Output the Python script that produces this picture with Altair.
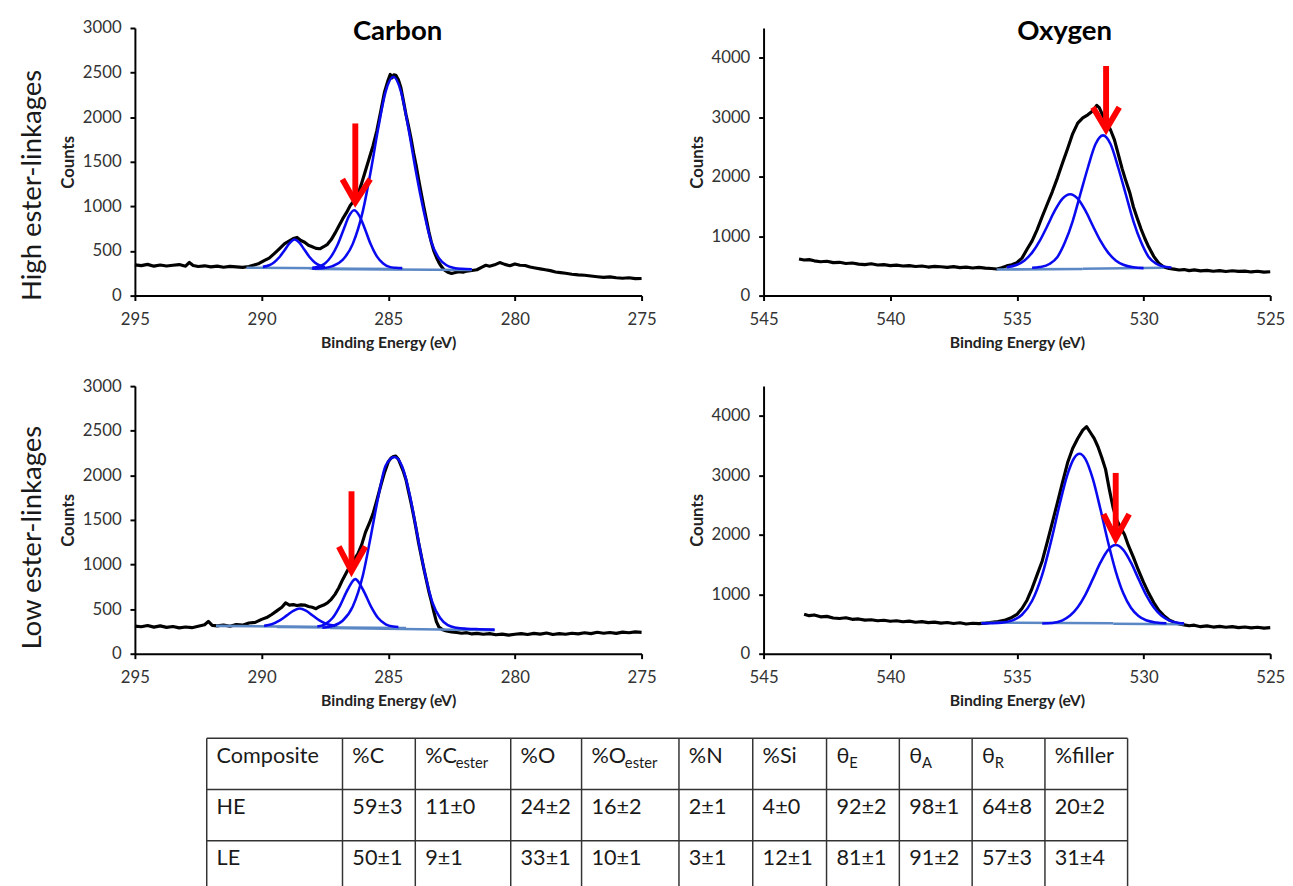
import altair as alt
import pandas as pd

FONT = "Lato"

# ---------------- data ----------------
# High ester-linkages, carbon 1s: measured spectrum (binding energy eV, counts)
HE_C_SPECTRUM = [
    (295.0, 345), (294.75, 336), (294.5, 350), (294.25, 330), (294.0, 343), (293.75, 332),
    (293.5, 340), (293.25, 348), (293.0, 330), (292.85, 372), (292.7, 338), (292.5, 326),
    (292.25, 334), (292.0, 322), (291.75, 330), (291.5, 318), (291.25, 328), (291.0, 322),
    (290.75, 316), (290.5, 326), (290.3, 342), (290.1, 360), (289.9, 392), (289.7, 420),
    (289.5, 470), (289.3, 525), (289.1, 580), (288.9, 615), (288.75, 640), (288.6, 652),
    (288.45, 618), (288.3, 598), (288.15, 565), (288.0, 548), (287.85, 530), (287.7, 525),
    (287.55, 548), (287.4, 575), (287.25, 628), (287.1, 700), (286.95, 780), (286.8, 860),
    (286.65, 930), (286.5, 1010), (286.35, 1065), (286.2, 1130), (286.05, 1260), (285.9, 1400),
    (285.75, 1540), (285.6, 1680), (285.45, 1850), (285.3, 2060), (285.15, 2280), (285.0, 2420),
    (284.92, 2480), (284.85, 2440), (284.78, 2475), (284.7, 2470), (284.6, 2420), (284.5, 2330),
    (284.4, 2180), (284.3, 2030), (284.2, 1900), (284.1, 1760), (284.0, 1600), (283.9, 1460),
    (283.8, 1300), (283.7, 1150), (283.6, 1000), (283.5, 860), (283.4, 720), (283.3, 600),
    (283.2, 500), (283.1, 430), (283.0, 370), (282.9, 325), (282.8, 290), (282.65, 262),
    (282.5, 248), (282.35, 258), (282.2, 268), (282.05, 262), (281.9, 275), (281.7, 282),
    (281.5, 290), (281.3, 320), (281.15, 340), (281.0, 330), (280.8, 345), (280.6, 370),
    (280.4, 350), (280.2, 335), (280.0, 355), (279.8, 340), (279.6, 338), (279.4, 320),
    (279.2, 310), (279.0, 300), (278.8, 290), (278.6, 280), (278.4, 265), (278.2, 258),
    (278.0, 250), (277.75, 240), (277.5, 232), (277.25, 228), (277.0, 220), (276.75, 212),
    (276.5, 205), (276.25, 210), (276.0, 200), (275.75, 195), (275.5, 200), (275.25, 190),
    (275.0, 192),
]
HE_C_FIT1 = [(289.95, 322), (289.7, 340), (289.5, 375), (289.3, 430), (289.1, 505), (288.9, 585),
             (288.7, 628), (288.5, 590), (288.3, 510), (288.1, 430), (287.9, 372), (287.7, 338),
             (287.5, 322)]
HE_C_FIT2 = [(288.0, 312), (287.75, 325), (287.5, 360), (287.25, 440), (287.0, 570), (286.75, 750),
             (286.55, 890), (286.35, 956), (286.15, 900), (285.95, 770), (285.7, 580), (285.45, 440),
             (285.2, 360), (284.95, 322), (284.7, 312), (284.45, 308)]
HE_C_FIT3 = [(288.0, 300), (287.6, 306), (287.2, 330), (286.8, 400), (286.4, 580), (286.0, 950),
             (285.7, 1380), (285.4, 1870), (285.1, 2290), (284.8, 2453), (284.5, 2290), (284.2, 1870),
             (283.9, 1380), (283.6, 950), (283.3, 600), (283.0, 420), (282.7, 340), (282.4, 310),
             (282.1, 300), (281.7, 296)]
HE_C_BASES = [[(290.6, 312), (287.4, 306)], [(288.1, 304), (284.4, 298)], [(287.9, 298), (281.7, 286)]]
HE_C_SHAFT = [(286.3, 1930), (286.3, 1090)]
HE_C_HEAD = [(286.81, 1305), (286.3, 1048), (285.71, 1305)]

# High ester-linkages, oxygen 1s
HE_O_SPECTRUM = [
    (543.6, 615), (543.4, 598), (543.2, 605), (543.0, 585), (542.75, 570), (542.5, 578),
    (542.25, 555), (542.0, 560), (541.75, 540), (541.5, 548), (541.25, 530), (541.0, 522),
    (540.75, 535), (540.5, 515), (540.25, 520), (540.0, 505), (539.75, 512), (539.5, 498),
    (539.25, 505), (539.0, 490), (538.75, 498), (538.5, 480), (538.25, 492), (538.0, 485),
    (537.75, 475), (537.5, 488), (537.25, 470), (537.0, 478), (536.75, 465), (536.5, 475),
    (536.25, 462), (536.0, 455), (535.8, 448), (535.6, 470), (535.4, 500), (535.2, 520),
    (535.0, 555), (534.8, 630), (534.6, 780), (534.4, 920), (534.2, 1110), (534.0, 1330),
    (533.8, 1540), (533.6, 1750), (533.4, 1980), (533.2, 2230), (533.0, 2470), (532.8, 2720),
    (532.6, 2900), (532.4, 2990), (532.2, 3040), (532.0, 3110), (531.85, 3200), (531.75, 3160),
    (531.6, 3020), (531.45, 2910), (531.3, 2780), (531.15, 2620), (531.0, 2380), (530.85, 2140),
    (530.7, 1930), (530.55, 1740), (530.4, 1490), (530.25, 1300), (530.1, 1120), (529.95, 960),
    (529.8, 820), (529.6, 660), (529.4, 545), (529.2, 480), (529.0, 455), (528.8, 445),
    (528.6, 430), (528.4, 438), (528.2, 420), (528.0, 432), (527.75, 415), (527.5, 425),
    (527.25, 410), (527.0, 420), (526.75, 405), (526.5, 418), (526.25, 408), (526.0, 412),
    (525.75, 398), (525.5, 410), (525.25, 395), (525.0, 402),
]
HE_O_FIT1 = [(535.4, 476), (535.0, 519), (534.7, 592), (534.4, 723), (534.1, 920), (533.8, 1171),
             (533.5, 1432), (533.2, 1631), (532.9, 1706), (532.6, 1631), (532.3, 1432), (532.0, 1171),
             (531.7, 920), (531.4, 723), (531.1, 592), (530.8, 519), (530.4, 476), (530.0, 462)]
HE_O_FIT2 = [(534.4, 468), (534.1, 480), (533.7, 535), (533.4, 650), (533.1, 900), (532.8, 1250),
             (532.5, 1700), (532.2, 2150), (531.9, 2545), (531.6, 2694), (531.3, 2545), (531.0, 2150),
             (530.7, 1700), (530.4, 1250), (530.1, 900), (529.8, 650), (529.5, 535), (529.1, 480),
             (528.9, 472)]
HE_O_BASES = [[(535.8, 440), (532.4, 446)], [(532.4, 452), (529.2, 470)]]
HE_O_SHAFT = [(531.48, 3861), (531.48, 2850)]
HE_O_HEAD = [(532.0, 3168), (531.48, 2794), (530.96, 3168)]

# Low ester-linkages, carbon 1s
LE_C_SPECTRUM = [
    (295.0, 310), (294.75, 302), (294.5, 316), (294.25, 298), (294.0, 312), (293.75, 295),
    (293.5, 305), (293.25, 290), (293.0, 300), (292.75, 292), (292.5, 308), (292.25, 325),
    (292.1, 362), (291.95, 318), (291.75, 312), (291.5, 322), (291.25, 308), (291.0, 328),
    (290.75, 320), (290.5, 345), (290.25, 352), (290.0, 385), (289.8, 405), (289.6, 440),
    (289.4, 480), (289.2, 520), (289.05, 570), (288.9, 545), (288.75, 550), (288.6, 540),
    (288.45, 548), (288.3, 545), (288.15, 530), (288.0, 520), (287.85, 505), (287.7, 530),
    (287.55, 545), (287.4, 570), (287.25, 610), (287.1, 665), (286.95, 740), (286.8, 830),
    (286.65, 910), (286.5, 990), (286.35, 1055), (286.2, 1120), (286.05, 1220), (285.9, 1360),
    (285.75, 1460), (285.6, 1570), (285.45, 1720), (285.3, 1880), (285.15, 2030), (285.0, 2150),
    (284.9, 2190), (284.8, 2210), (284.7, 2215), (284.6, 2180), (284.5, 2110), (284.4, 2040),
    (284.3, 1950), (284.2, 1820), (284.1, 1690), (284.0, 1550), (283.9, 1400), (283.8, 1240),
    (283.7, 1100), (283.6, 960), (283.5, 830), (283.4, 700), (283.3, 590), (283.2, 470),
    (283.1, 360), (283.0, 300), (282.85, 268), (282.7, 255), (282.5, 245), (282.3, 238),
    (282.1, 230), (281.9, 236), (281.7, 222), (281.5, 228), (281.25, 218), (281.0, 225),
    (280.75, 212), (280.5, 220), (280.25, 208), (280.0, 218), (279.75, 225), (279.5, 215),
    (279.25, 228), (279.0, 220), (278.75, 232), (278.5, 215), (278.25, 225), (278.0, 218),
    (277.75, 230), (277.5, 222), (277.25, 235), (277.0, 225), (276.75, 240), (276.5, 230),
    (276.25, 238), (276.0, 228), (275.75, 242), (275.5, 235), (275.25, 245), (275.0, 240),
]
LE_C_FIT1 = [(289.9, 312), (289.6, 330), (289.3, 370), (289.0, 430), (288.75, 480), (288.5, 507),
             (288.25, 482), (288.0, 432), (287.7, 370), (287.4, 330), (287.1, 312)]
LE_C_FIT2 = [(287.8, 305), (287.5, 330), (287.2, 400), (286.9, 540), (286.6, 720), (286.3, 836),
             (286.0, 720), (285.7, 540), (285.4, 400), (285.1, 330), (284.8, 305), (284.6, 300)]
LE_C_FIT3 = [(287.6, 292), (287.2, 310), (286.8, 370), (286.4, 530), (286.0, 880), (285.7, 1300),
             (285.4, 1750), (285.1, 2110), (284.75, 2205), (284.45, 2100), (284.15, 1780), (283.85, 1330),
             (283.55, 900), (283.25, 570), (282.95, 400), (282.65, 320), (282.3, 290), (281.9, 280),
             (281.4, 275), (280.8, 270)]
LE_C_BASES = [[(291.8, 312), (287.0, 298)], [(289.4, 300), (284.3, 288)], [(287.3, 288), (280.8, 262)]]
LE_C_SHAFT = [(286.45, 1821), (286.45, 980)]
LE_C_HEAD = [(286.95, 1201), (286.45, 927), (285.9, 1201)]

# Low ester-linkages, oxygen 1s
LE_O_SPECTRUM = [
    (543.4, 665), (543.2, 640), (543.0, 652), (542.75, 620), (542.5, 628), (542.25, 600),
    (542.0, 592), (541.75, 605), (541.5, 578), (541.25, 585), (541.0, 565), (540.75, 572),
    (540.5, 555), (540.25, 562), (540.0, 545), (539.75, 555), (539.5, 538), (539.25, 548),
    (539.0, 530), (538.75, 540), (538.5, 522), (538.25, 532), (538.0, 515), (537.75, 525),
    (537.5, 508), (537.25, 520), (537.0, 500), (536.75, 512), (536.5, 505), (536.25, 515),
    (536.0, 530), (535.75, 540), (535.5, 560), (535.25, 600), (535.0, 660), (534.8, 760),
    (534.6, 900), (534.4, 1100), (534.2, 1330), (534.0, 1560), (533.8, 1880), (533.6, 2210),
    (533.4, 2540), (533.2, 2880), (533.0, 3210), (532.8, 3450), (532.6, 3620), (532.4, 3760),
    (532.25, 3820), (532.1, 3720), (531.95, 3620), (531.8, 3480), (531.65, 3300), (531.5, 3100),
    (531.35, 2760), (531.2, 2450), (531.05, 2240), (530.9, 2120), (530.75, 2000), (530.6, 1820),
    (530.4, 1620), (530.2, 1400), (530.0, 1200), (529.8, 1020), (529.6, 860), (529.4, 730),
    (529.2, 640), (529.0, 570), (528.8, 530), (528.6, 500), (528.4, 485), (528.2, 470),
    (528.0, 480), (527.75, 455), (527.5, 468), (527.25, 448), (527.0, 460), (526.75, 445),
    (526.5, 455), (526.25, 438), (526.0, 450), (525.75, 435), (525.5, 445), (525.25, 430),
    (525.0, 438),
]
LE_O_FIT1 = [(536.4, 510), (536.0, 513), (535.6, 523), (535.2, 556), (534.8, 655), (534.4, 890),
             (534.0, 1330), (533.6, 1982), (533.3, 2535), (533.0, 3020), (532.75, 3283), (532.53, 3363),
             (532.3, 3277), (532.0, 2935), (531.7, 2424), (531.4, 1874), (531.1, 1386), (530.8, 1015),
             (530.5, 772), (530.2, 634), (529.9, 562), (529.5, 524), (529.1, 512)]
LE_O_FIT2 = [(534.0, 507), (533.6, 517), (533.2, 562), (532.9, 641), (532.6, 780), (532.3, 990),
             (532.0, 1258), (531.7, 1535), (531.4, 1747), (531.1, 1827), (530.8, 1747), (530.5, 1535),
             (530.2, 1258), (529.9, 990), (529.6, 780), (529.3, 641), (529.0, 562), (528.6, 517),
             (528.4, 510)]
LE_O_BASES = [[(536.4, 522), (531.2, 512)], [(531.2, 505), (528.4, 495)]]
LE_O_SHAFT = [(531.1, 3040), (531.1, 2000)]
LE_O_HEAD = [(531.58, 2348), (531.1, 1937), (530.57, 2348)]

C_TICKS_X = [275, 280, 285, 290, 295]
O_TICKS_X = [525, 530, 535, 540, 545]
C_TICKS_Y = [0, 500, 1000, 1500, 2000, 2500, 3000]
O_TICKS_Y = [0, 1000, 2000, 3000, 4000]

PANEL_TITLES = ["Carbon", "Oxygen"]
ROW_LABELS = ["High ester-linkages", "Low ester-linkages"]
X_TITLE = "Binding Energy (eV)"
Y_TITLE = "Counts"

# table
TABLE_HEADER = [("Composite", ""), ("%C", ""), ("%C", "ester"), ("%O", ""), ("%O", "ester"),
                ("%N", ""), ("%Si", ""), ("θ", "E"), ("θ", "A"), ("θ", "R"), ("%filler", "")]
TABLE_HE = ["HE", "59±3", "11±0", "24±2", "16±2", "2±1", "4±0", "92±2", "98±1", "64±8", "20±2"]
TABLE_LE = ["LE", "50±1", "9±1", "33±1", "10±1", "3±1", "12±1", "81±1", "91±2", "57±3", "31±4"]

# ---------------- style / layout constants ----------------
PW, PH = 515, 272
BLACK_W, BLUE_W, BASE_W, ARROW_W = 3.2, 2.6, 2.6, 6
BLUE = "#0a0af0"
BASE_C = "#5b87c5"
RED = "#ff0000"
LABEL_C = "#333333"

COL_W = [138, 74, 97, 72, 99, 75, 75, 74, 74, 74, 84]
ROW_H = 52
TABLE_OFFSET = 73
MAIN_W = {"%C": 30, "%O": 33, "θ": 12}


def xaxis(vals):
    return alt.Axis(values=vals, format="d", grid=False, domainColor="black", domainWidth=2,
                    tickColor="black", tickWidth=2, tickSize=5, labelPadding=11, labelFlush=False,
                    labelOverlap=False, labelFont=FONT, labelFontSize=17, labelColor=LABEL_C,
                    titleFont=FONT, titleFontSize=16, titleFontWeight="bold", titleColor="#222222",
                    titlePadding=8)


def yaxis(vals):
    return alt.Axis(values=vals, format="d", grid=False, domainColor="black", domainWidth=2,
                    tickColor="black", tickWidth=2, tickSize=5, labelPadding=9, labelFlush=False,
                    labelOverlap=False, labelFont=FONT, labelFontSize=17, labelColor=LABEL_C,
                    titleFont=FONT, titleFontSize=17, titleFontWeight="bold", titleColor="#222222",
                    titlePadding=5)


def to_df(points, group="g"):
    df = pd.DataFrame(points, columns=["ev", "counts"])
    df["grp"] = group
    df["i"] = range(len(df))
    return df


def panel(spectrum, fits, bases, shaft, head, xdom, ymax, xt, yt, title=None, title_x=0,
          row_label=None, row_y=0):
    xs = alt.Scale(domain=xdom, reverse=True, nice=False, zero=False)
    ys = alt.Scale(domain=[0, ymax], nice=False)
    X = alt.X("ev:Q", scale=xs, axis=xaxis(xt), title=X_TITLE)
    Y = alt.Y("counts:Q", scale=ys, axis=yaxis(yt), title=Y_TITLE)

    spec_df = to_df(spectrum)
    fit_df = pd.concat([to_df(f, f"fit{k}") for k, f in enumerate(fits)])
    base_df = pd.concat([to_df(b, f"base{k}") for k, b in enumerate(bases)])
    arrow_df = pd.concat([to_df(shaft, "shaft"), to_df(head, "head")])

    black = alt.Chart(spec_df).mark_line(color="black", strokeWidth=BLACK_W, strokeJoin="round").encode(
        x=X, y=Y, order="i:Q")
    base = alt.Chart(base_df).mark_line(color=BASE_C, strokeWidth=BASE_W).encode(
        x=X, y=Y, detail="grp:N", order="i:Q")
    fit = alt.Chart(fit_df).mark_line(color=BLUE, strokeWidth=BLUE_W, interpolate="monotone").encode(
        x=X, y=Y, detail="grp:N", order="i:Q")
    arrow = alt.Chart(arrow_df).mark_line(color=RED, strokeWidth=ARROW_W, strokeCap="butt",
                                          strokeJoin="miter").encode(
        x=X, y=Y, detail="grp:N", order="i:Q")
    layers = [black, base, fit, arrow]
    if title:
        layers.append(alt.Chart(pd.DataFrame({"t": [title]})).mark_text(
            font=FONT, fontSize=28, fontWeight="bold", color="black", align="center",
            baseline="middle").encode(x=alt.value(title_x), y=alt.value(4), text="t:N"))
    if row_label:
        layers.append(alt.Chart(pd.DataFrame({"t": [row_label]})).mark_text(
            font=FONT, fontSize=28, color="#1a1a1a", align="center", baseline="middle",
            angle=270).encode(x=alt.value(-103.5), y=alt.value(row_y), text="t:N"))
    return alt.layer(*layers).properties(width=PW, height=PH)


tl = panel(HE_C_SPECTRUM, [HE_C_FIT1, HE_C_FIT2, HE_C_FIT3], HE_C_BASES, HE_C_SHAFT, HE_C_HEAD,
           [275, 295], 3000, C_TICKS_X, C_TICKS_Y, title=PANEL_TITLES[0], title_x=267,
           row_label=ROW_LABELS[0], row_y=160)
tr = panel(HE_O_SPECTRUM, [HE_O_FIT1, HE_O_FIT2], HE_O_BASES, HE_O_SHAFT, HE_O_HEAD,
           [525, 545], 4500, O_TICKS_X, O_TICKS_Y, title=PANEL_TITLES[1], title_x=306)
bl = panel(LE_C_SPECTRUM, [LE_C_FIT1, LE_C_FIT2, LE_C_FIT3], LE_C_BASES, LE_C_SHAFT, LE_C_HEAD,
           [275, 295], 3000, C_TICKS_X, C_TICKS_Y, row_label=ROW_LABELS[1], row_y=154)
br = panel(LE_O_SPECTRUM, [LE_O_FIT1, LE_O_FIT2], LE_O_BASES, LE_O_SHAFT, LE_O_HEAD,
           [525, 545], 4500, O_TICKS_X, O_TICKS_Y)

# ---------------- table ----------------
edges = [0]
for w in COL_W:
    edges.append(edges[-1] + w)
n_rows = 3
t_h = ROW_H * n_rows
vlines = pd.DataFrame({"x": edges, "y0": [0] * len(edges), "y1": [t_h] * len(edges)})
hlines = pd.DataFrame({"y": [ROW_H * r for r in range(n_rows + 1)], "x0": 0, "x1": edges[-1]})

main_rows, sub_rows = [], []
for c, (main, sub) in enumerate(TABLE_HEADER):
    main_rows.append({"x": edges[c] + 10, "y": 25, "t": main})
    if sub:
        sub_rows.append({"x": edges[c] + 10 + MAIN_W[main] + 1, "y": 30, "t": sub})
for r, row in enumerate([TABLE_HE, TABLE_LE], start=1):
    for c, val in enumerate(row):
        main_rows.append({"x": edges[c] + 10, "y": ROW_H * r + 25, "t": val})

txs = alt.Scale(domain=[-TABLE_OFFSET, edges[-1]], nice=False, zero=False)
tys = alt.Scale(domain=[0, t_h], reverse=True, nice=False, zero=False)
TW = TABLE_OFFSET + edges[-1]

v = alt.Chart(vlines).mark_rule(color="#333333", strokeWidth=1.5).encode(
    x=alt.X("x:Q", scale=txs, axis=None), y=alt.Y("y0:Q", scale=tys, axis=None), y2="y1:Q")
h = alt.Chart(hlines).mark_rule(color="#333333", strokeWidth=1.5).encode(
    x=alt.X("x0:Q", scale=txs, axis=None), x2="x1:Q", y=alt.Y("y:Q", scale=tys, axis=None))
mt = alt.Chart(pd.DataFrame(main_rows)).mark_text(
    font=FONT, fontSize=22, color="#1a1a1a", align="left", baseline="alphabetic").encode(
    x=alt.X("x:Q", scale=txs, axis=None), y=alt.Y("y:Q", scale=tys, axis=None), text="t:N")
st = alt.Chart(pd.DataFrame(sub_rows)).mark_text(
    font=FONT, fontSize=15, color="#1a1a1a", align="left", baseline="alphabetic").encode(
    x=alt.X("x:Q", scale=txs, axis=None), y=alt.Y("y:Q", scale=tys, axis=None), text="t:N")
table = alt.layer(v, h, mt, st).properties(width=TW, height=t_h)

row1 = alt.hconcat(tl, tr, spacing=32)
row2 = alt.hconcat(bl, br, spacing=32)
grid = alt.vconcat(row1, row2, spacing=27)
chart = alt.vconcat(grid, table, spacing=29).properties(
    padding={"left": 11, "top": 3, "right": 0, "bottom": 0},
    background="white",
).configure_view(stroke=None)

chart.save("out.html", embed_options={"renderer": "svg", "actions": False})
